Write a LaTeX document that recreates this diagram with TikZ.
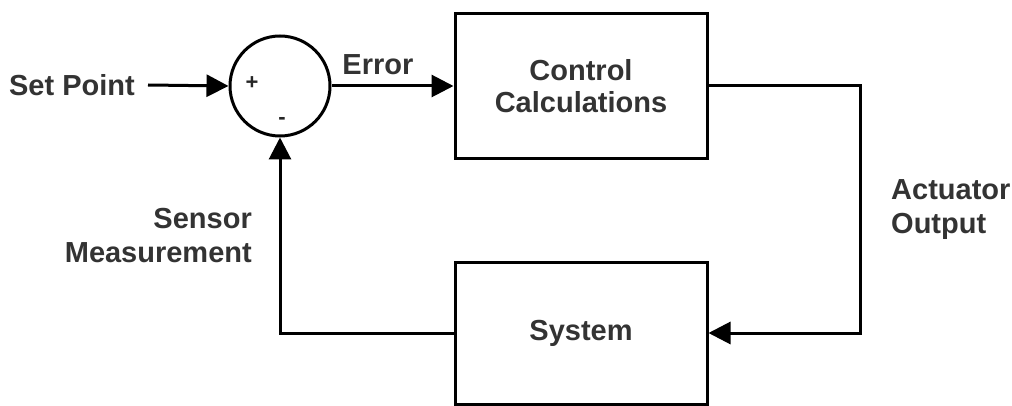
\documentclass[tikz,border=0pt]{standalone}
\usepackage{fontspec}
\setmainfont{Liberation Sans}
\usepackage{tikz}
\usetikzlibrary{arrows.meta}

\tikzset{
  lbl/.style={font=\fontsize{29}{34}\selectfont\bfseries,text=black!80,inner sep=10pt},
  sgn/.style={font=\fontsize{22}{24}\selectfont\bfseries,text=black!85,inner sep=1pt},
  blk/.style={draw,line width=3pt,minimum width=252pt,lbl,align=center},
  arr/.style={line width=3pt,-{Triangle[length=22pt,width=22pt]}},
}

\begin{document}
\begin{tikzpicture}[x=1pt,y=-1pt]
  \useasboundingbox (0,0) rectangle (1012,406);
  %\draw (0,0) rectangle (1012,406);
  \node[draw,circle,line width=3pt,minimum size=100pt] (sum) at (280,86) {};
  \node[sgn] (plus) at (252,83) {+};
  \node[sgn] (minus) at (282,121) {-};
  \node[lbl,anchor=east,inner xsep=13pt] (sp) at (148,85) {Set Point};
  \node[blk,minimum height=145pt] (cc) at (581,86) {Control\\[-2pt]Calculations};
  \node[blk,minimum height=142pt] (sys) at (581,333) {System};
  \coordinate (turn) at (860,86);
  \node[lbl,anchor=west,align=left] (act) at (881,210) {Actuator\\Output};
  \node[lbl,anchor=east,align=right] (meas) at (262,236) {Sensor\\Measurement};

  \draw[arr] (sp.east) -- (sum.west);
  \draw[arr] (sum.east) -- node[lbl,above,pos=0.38] (err) {Error} (cc.west);
  \draw[arr] (cc.east) -- (turn) |- (sys.east);
  \draw[arr] (sys.west) -| (sum.south);
\end{tikzpicture}
\end{document}
